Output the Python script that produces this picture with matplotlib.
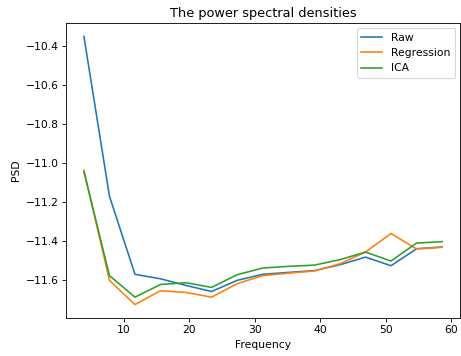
import numpy as np
import matplotlib
matplotlib.use("Agg")
import matplotlib.pyplot as plt

freqs = [3.9, 7.8, 11.7, 15.6, 19.5, 23.4, 27.3, 31.2, 35.2, 39.1, 43.0, 46.9, 50.8, 54.7, 58.6]
raw = [-10.351, -11.169, -11.569, -11.592, -11.626, -11.657, -11.600, -11.569, -11.559, -11.550,
       -11.520, -11.481, -11.525, -11.438, -11.429]
regression = [-11.035, -11.600, -11.724, -11.653, -11.662, -11.686, -11.617, -11.576, -11.563, -11.552,
              -11.515, -11.455, -11.360, -11.439, -11.431]
ica = [-11.044, -11.576, -11.686, -11.621, -11.612, -11.636, -11.571, -11.537, -11.528, -11.522,
       -11.494, -11.455, -11.501, -11.409, -11.402]

DPI = 77
fig = plt.figure(figsize=(461/DPI, 356/DPI), dpi=DPI)
ax = fig.add_axes([66/461, 38/356, 394/461, 295/356])
ax.plot(freqs, raw, label="Raw")
ax.plot(freqs, regression, label="Regression")
ax.plot(freqs, ica, label="ICA")
ax.set_title("The power spectral densities")
ax.set_xlabel("Frequency")
ax.set_ylabel("PSD")
ax.legend()
fig.savefig("out.png", dpi=DPI)
